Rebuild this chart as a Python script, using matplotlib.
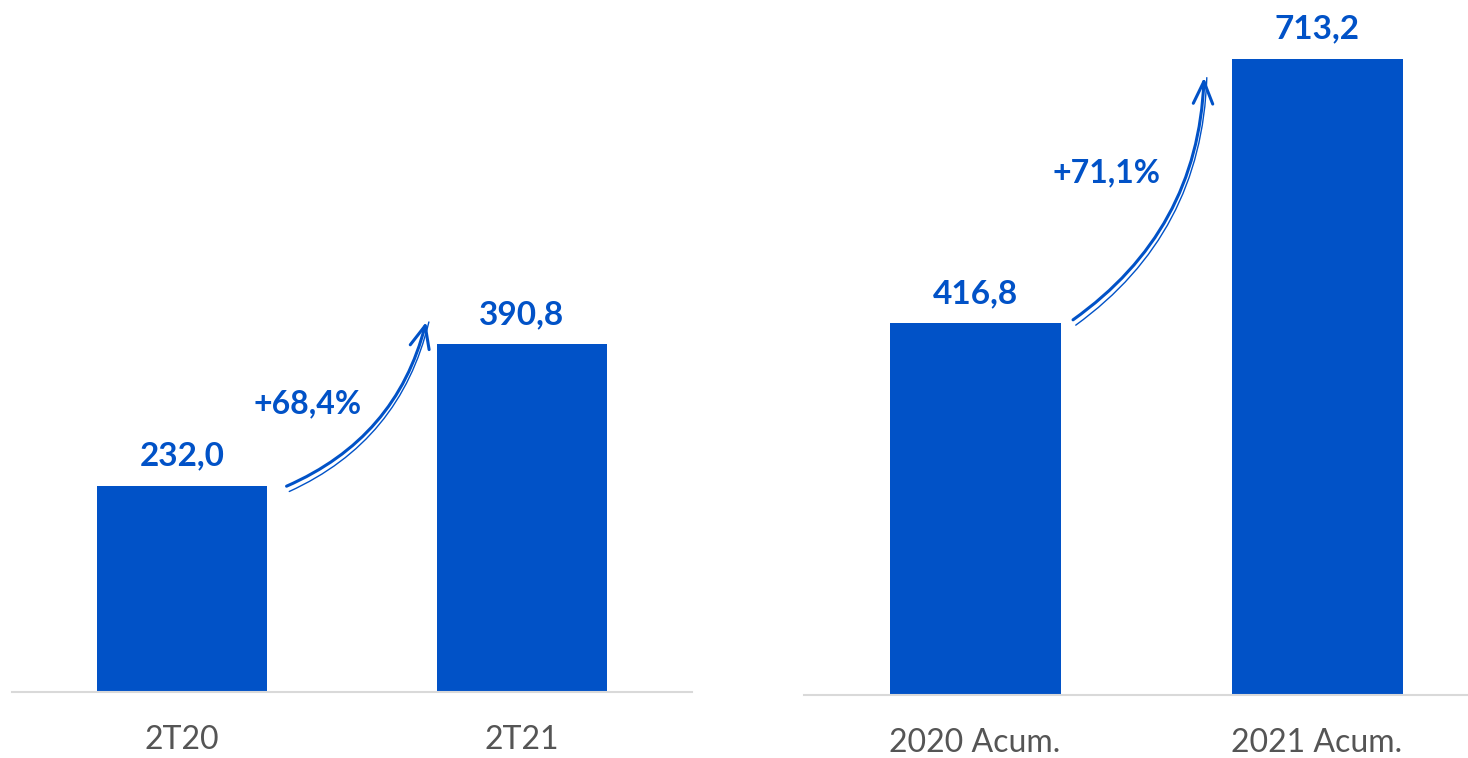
import matplotlib.pyplot as plt
from matplotlib.patches import FancyArrowPatch

plt.rcParams['font.family'] = ['Lato', 'DejaVu Sans']

blue = '#0152C7'
grey = '#555555'

# quarter comparison
q_labels = ['2T20', '2T21']
q_values = [232.0, 390.8]
q_change = '+68,4%'

# cumulative comparison
acc_labels = ['2020 Acum.', '2021 Acum.']
acc_values = [416.8, 713.2]
acc_change = '+71,1%'


def fmt(v):
    return f'{v:.1f}'.replace('.', ',')


def panel(ax, labels, values, change, ymax, xmax, arrow, pct_xy):
    x = range(len(values))
    ax.bar(x, values, width=0.5, color=blue)
    for xi, v in zip(x, values):
        ax.annotate(fmt(v), (xi, v), xytext=(0, 11), textcoords='offset points',
                    ha='center', va='bottom', fontsize=24, fontweight='bold', color=blue)
    ax.set_xlim(-0.5, xmax)
    ax.set_ylim(0, ymax)
    ax.set_xticks(list(x))
    ax.set_xticklabels(labels, fontsize=23, color=grey)
    ax.tick_params(axis='x', length=0, pad=24)
    ax.set_yticks([])
    for s in ['top', 'left', 'right']:
        ax.spines[s].set_visible(False)
    ax.spines['bottom'].set_color('#D9D9D9')
    ax.spines['bottom'].set_linewidth(1.5)

    # sketchy growth arrow between the bars
    (x0, y0), (x1, y1) = arrow
    for dx, dy, lw in [(0, 0, 2.2), (0.008, -6, 1.0)]:
        a = FancyArrowPatch((x0 + dx, y0 + dy), (x1 + dx, y1), connectionstyle='arc3,rad=0.25',
                            arrowstyle='->,head_length=16,head_width=7' if dx == 0 else '-',
                            color=blue, lw=lw, mutation_scale=1)
        ax.add_patch(a)
    ax.text(pct_xy[0], pct_xy[1], change, ha='center', va='center',
            fontsize=23, fontweight='bold', color=blue)


fig = plt.figure(figsize=(14.68, 7.58), dpi=100)

ax1 = fig.add_axes([12 / 1468, 66 / 758, 680 / 1468, 692 / 758])
panel(ax1, q_labels, q_values, q_change, 692 / 0.89, 1.5,
      ((0.30, q_values[0] - 2), (0.72, q_values[1] + 28)), (0.37, 324))

ax2 = fig.add_axes([804 / 1468, 63 / 758, 664 / 1468, 695 / 758])
panel(ax2, acc_labels, acc_values, acc_change, 695 / 0.892, -0.5 + 664 / 342,
      ((0.28, acc_values[0] + 2), (0.67, acc_values[1] - 18)), (0.385, 585))

fig.savefig('out.png', dpi=100)
